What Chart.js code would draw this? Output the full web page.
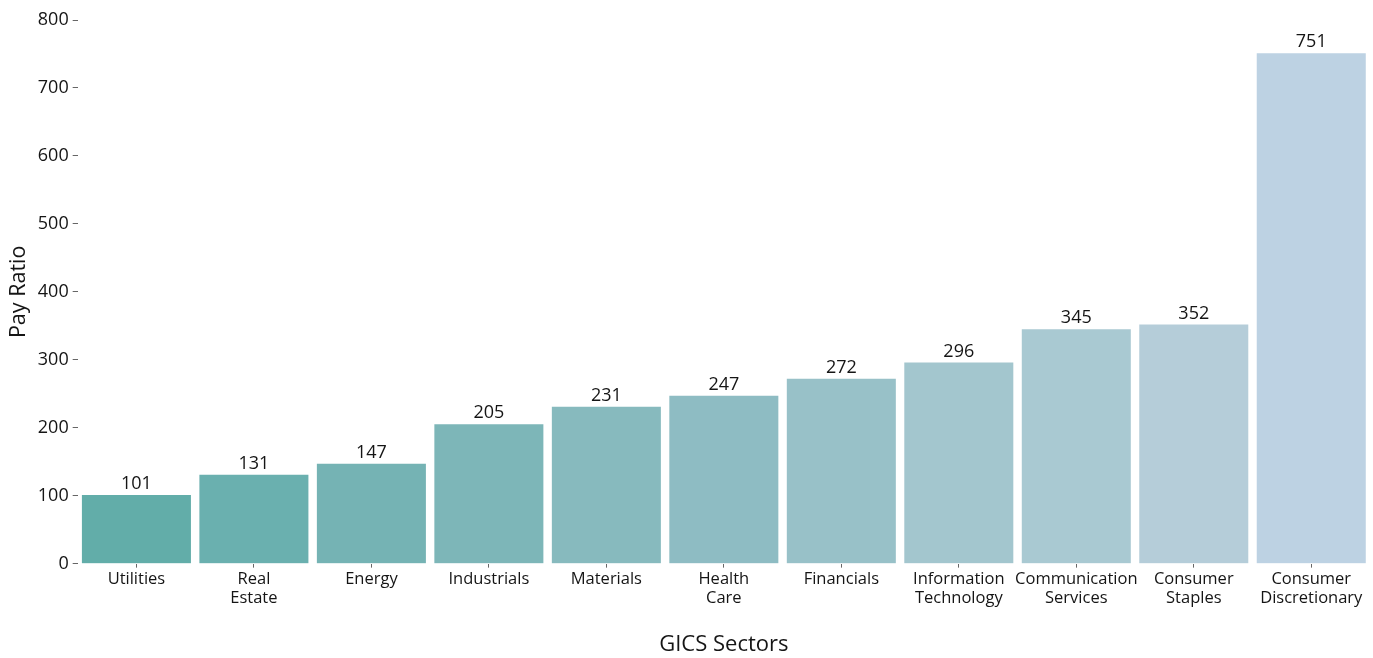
<!DOCTYPE html>
<html>
<head>
<meta charset="utf-8">
<script src="https://cdn.jsdelivr.net/npm/chart.js@4.4.1/dist/chart.umd.min.js"></script>
<style>
  html, body { margin: 0; padding: 0; background: #fff; }
  #wrap { width: 1373px; height: 658px; }
</style>
</head>
<body>
<div id="wrap"><canvas id="myChart"></canvas></div>
<script>
// sectors, sorted by pay ratio
const sectors = [
    ['Utilities'], ['Real', 'Estate'], ['Energy'], ['Industrials'], ['Materials'],
    ['Health', 'Care'], ['Financials'], ['Information', 'Technology'],
    ['Communication', 'Services'], ['Consumer', 'Staples'], ['Consumer', 'Discretionary']
];
const payRatio = [101, 131, 147, 205, 231, 247, 272, 296, 345, 352, 751];
const barColors = [
    '#62ada9', '#6ab0af', '#75b3b4', '#7db6b8', '#87babe', '#8ebcc3',
    '#98c1c8', '#a3c6ce', '#a9c9d2', '#b5cdd9', '#bdd2e3'
];
const yTicks = [0, 100, 200, 300, 400, 500, 600, 700, 800];

const textColor = '#151515';
const font = "'Open Sans', 'Noto Sans', sans-serif";

//
// value labels above each bar
//
const valueLabels = {
    id: 'valueLabels',
    afterDatasetsDraw(chart) {
        const ctx = chart.ctx;
        const meta = chart.getDatasetMeta(0);
        ctx.save();
        ctx.font = '18px ' + font;
        ctx.fillStyle = textColor;
        ctx.textAlign = 'center';
        ctx.textBaseline = 'bottom';
        meta.data.forEach((bar, i) => {
            ctx.fillText(payRatio[i], bar.x, bar.y - 2);
        });
        ctx.restore();
    }
};

new Chart(document.getElementById('myChart').getContext('2d'), {
    type: 'bar',
    data: {
        labels: sectors,
        datasets: [{
            data: payRatio,
            backgroundColor: barColors,
            borderWidth: 0,
            barPercentage: 0.928,
            categoryPercentage: 1.0
        }]
    },
    options: {
        responsive: true,
        maintainAspectRatio: false,
        animation: false,
        layout: {
            padding: { left: 6, right: 3, top: 20, bottom: 0 }
        },
        plugins: {
            legend: { display: false },
            tooltip: { enabled: false }
        },
        scales: {
            x: {
                border: { display: false },
                grid: {
                    offset: false,
                    drawOnChartArea: false,
                    drawTicks: true,
                    tickLength: 4,
                    tickColor: '#666'
                },
                ticks: {
                    color: textColor,
                    font: { family: font, size: 16.5, lineHeight: 1.15 },
                    padding: 2,
                    maxRotation: 0,
                    autoSkip: false
                },
                title: {
                    display: true,
                    text: 'GICS Sectors',
                    color: textColor,
                    font: { family: font, size: 22 },
                    padding: { top: 22, bottom: 0 }
                }
            },
            y: {
                min: 0,
                max: 800,
                afterBuildTicks(scale) {
                    scale.ticks = yTicks.map(v => ({ value: v }));
                },
                border: { display: false },
                grid: {
                    drawOnChartArea: false,
                    drawTicks: true,
                    tickLength: 5,
                    tickColor: '#666'
                },
                ticks: {
                    color: textColor,
                    font: { family: font, size: 18 },
                    padding: 4
                },
                title: {
                    display: true,
                    text: 'Pay Ratio',
                    color: textColor,
                    font: { family: font, size: 21.5 },
                    padding: { top: 0, bottom: 2 }
                }
            }
        }
    },
    plugins: [valueLabels]
});
</script>
</body>
</html>
